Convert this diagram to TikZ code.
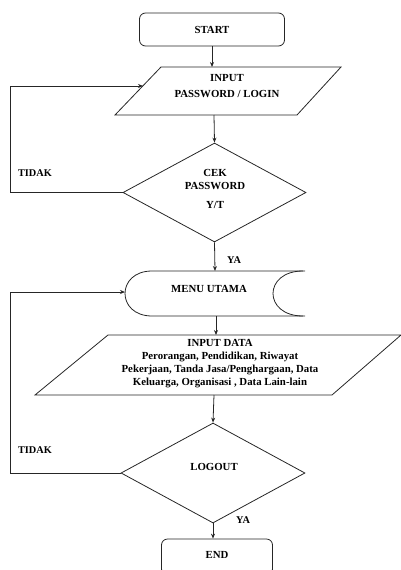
\documentclass[tikz,border=0pt]{standalone}
\usepackage{fontspec}
\setmainfont{Liberation Serif}
\usepackage{tikz}
\usetikzlibrary{shapes,arrows,positioning,calc,arrows.meta}

\tikzset{
    flowline/.style={line width=0.8pt, draw=black!85},
    flowarrow/.style={flowline, -{Stealth[length=5pt,width=4pt]}},
    terminal/.style={flowline, rounded corners=6pt, minimum height=33pt, inner sep=0pt},
    decision/.style={flowline, diamond, inner sep=0pt, minimum width=183pt, minimum height=99pt},
    txt/.style={font=\fontsize{10.8}{13}\selectfont\bfseries, align=center, inner sep=0pt},
    lbl/.style={font=\fontsize{10.3}{12}\selectfont\bfseries, inner sep=0pt}
}

\begin{document}
\begin{tikzpicture}[x=1pt,y=-1pt]
    \useasboundingbox (0,0) rectangle (401,570);

    % start
    \node [terminal, draw, minimum width=145pt, txt] (start) at (212,29.5) {START};

    % input password
    \coordinate (pwtop) at (212,67);
    \coordinate (pwleft) at (143,86);
    \coordinate (pwbot) at (214,115);
    \draw [flowline] (161,67) -- (341,67) -- (297,115) -- (115,115) -- cycle;
    \node [txt] (pwtext) at (227,86) {INPUT\\[3pt]PASSWORD / LOGIN};

    % cek password
    \node [decision, draw] (cek) at (214.5,192.5) {};
    \node [txt] (cektext) at (215,189) {CEK\\PASSWORD\\[6pt]Y/T};

    % menu utama
    \coordinate (menutop) at (215,271);
    \coordinate (menuleft) at (125,292);
    \coordinate (menubot) at (216,316);
    \draw [flowline] (305,271) -- (152,271) .. controls (116,271) and (116,316) .. (152,316) -- (305,316);
    \draw [flowline] (303,271) .. controls (263,271) and (263,316) .. (303,316);
    \node [txt] (menutext) at (209,289) {MENU UTAMA};

    % input data
    \coordinate (datatop) at (216,335);
    \coordinate (databot) at (214,395);
    \draw [flowline] (108,335) -- (401,335) -- (332,395) -- (35,395) -- cycle;
    \node [txt] (datatext) at (220,364) {INPUT DATA\\Perorangan, Pendidikan, Riwayat\\Pekerjaan, Tanda Jasa/Penghargaan, Data\\Keluarga, Organisasi , Data Lain-lain};

    % logout
    \node [decision, draw, minimum width=184pt, minimum height=100pt] (logout) at (213,473) {};
    \node [txt] (logouttext) at (214,467) {LOGOUT};

    % end
    \node [terminal, draw, minimum width=111pt, minimum height=36pt, txt] (end) at (217,557) {};
    \node [txt] (endtext) at (217,555) {END};

    % arrows
    \draw [flowarrow] (start.south) -- (pwtop);
    \draw [flowarrow] (pwbot) -- (cek.north);
    \draw [flowarrow] (cek.west) -- (10,192.5) |- (pwleft);
    \draw [flowarrow] (cek.south) -- (menutop);
    \draw [flowarrow] (menubot) -- (datatop);
    \draw [flowarrow] (databot) -- (logout.north);
    \draw [flowarrow] (logout.west) -- (10,473) |- (menuleft);
    \draw [flowarrow] (logout.south) -- (end.north -| logout.south);

    % labels
    \node [lbl] (tidaka) at (35,173) {TIDAK};
    \node [lbl] (yaa) at (234,260) {YA};
    \node [lbl] (tidakb) at (35,450) {TIDAK};
    \node [lbl] (yab) at (243,520) {YA};
\end{tikzpicture}
\end{document}
